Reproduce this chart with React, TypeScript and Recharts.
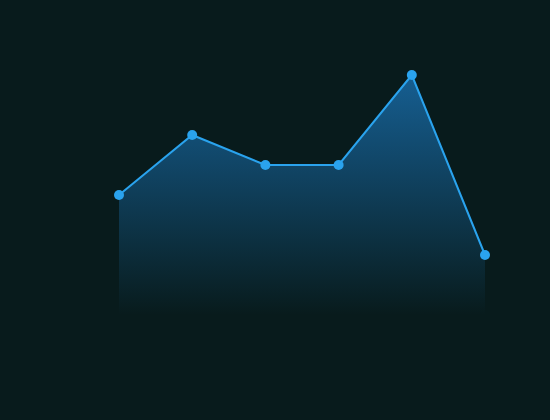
import React from 'react';
import { AreaChart, Area, XAxis, YAxis } from 'recharts';

const categories = ['A', 'B', 'C', 'D', 'E', 'F'];
const values = [20, 30, 25, 25, 40, 10];

const data = categories.map((name, i) => ({ name, value: values[i] }));

export default function App() {
  return (
    <div style={{ position: 'fixed', left: 0, top: 0, width: 550, height: 420, background: '#081b1c' }}>
      <AreaChart width={550} height={420} data={data} margin={{ top: 75, right: 65, bottom: 105, left: 119 }}>
        <defs>
          <linearGradient id="areaFill" x1="0" y1="0" x2="0" y2="1">
            <stop offset="0%" stopColor="#2196f3" stopOpacity={0.55} />
            <stop offset="100%" stopColor="#2196f3" stopOpacity={0} />
          </linearGradient>
        </defs>
        <XAxis dataKey="name" hide />
        <YAxis hide domain={[0, 40]} />
        <Area
          type="linear"
          dataKey="value"
          stroke="#2aa3ee"
          strokeWidth={2}
          fill="url(#areaFill)"
          fillOpacity={1}
          dot={{ r: 5, fill: '#2aa3ee', fillOpacity: 1, stroke: 'none' }}
          activeDot={false}
          isAnimationActive={false}
        />
      </AreaChart>
    </div>
  );
}
